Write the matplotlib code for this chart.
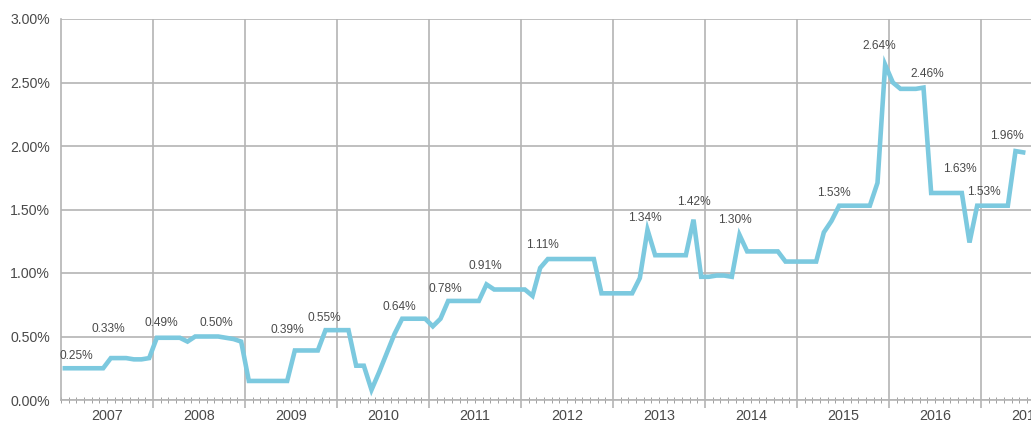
import numpy as np
import matplotlib
matplotlib.use("Agg")
import matplotlib.pyplot as plt
from matplotlib.ticker import FuncFormatter, MultipleLocator

# Monthly rate (%) from Jan 2007 to Jun 2017, one row per year
rate = [
    0.25, 0.25, 0.25, 0.25, 0.25, 0.25, 0.33, 0.33, 0.33, 0.32, 0.32, 0.33,  # 2007
    0.49, 0.49, 0.49, 0.49, 0.46, 0.50, 0.50, 0.50, 0.50, 0.49, 0.48, 0.46,  # 2008
    0.15, 0.15, 0.15, 0.15, 0.15, 0.15, 0.39, 0.39, 0.39, 0.39, 0.55, 0.55,  # 2009
    0.55, 0.55, 0.27, 0.27, 0.08, 0.22, 0.37, 0.52, 0.64, 0.64, 0.64, 0.64,  # 2010
    0.58, 0.64, 0.78, 0.78, 0.78, 0.78, 0.78, 0.91, 0.87, 0.87, 0.87, 0.87,  # 2011
    0.87, 0.82, 1.04, 1.11, 1.11, 1.11, 1.11, 1.11, 1.11, 1.11, 0.84, 0.84,  # 2012
    0.84, 0.84, 0.84, 0.96, 1.34, 1.14, 1.14, 1.14, 1.14, 1.14, 1.42, 0.97,  # 2013
    0.97, 0.98, 0.98, 0.97, 1.30, 1.17, 1.17, 1.17, 1.17, 1.17, 1.09, 1.09,  # 2014
    1.09, 1.09, 1.09, 1.32, 1.41, 1.53, 1.53, 1.53, 1.53, 1.53, 1.71, 2.64,  # 2015
    2.50, 2.45, 2.45, 2.45, 2.46, 1.63, 1.63, 1.63, 1.63, 1.63, 1.24, 1.53,  # 2016
    1.53, 1.53, 1.53, 1.53, 1.96, 1.95,                                      # 2017
]
start_year = 2007
years = [2007, 2008, 2009, 2010, 2011, 2012, 2013, 2014, 2015, 2016, 2017]

# months (index into rate) that carry a value label, and where the label sits (pixels)
label_months = [0, 6, 12, 20, 30, 34, 44, 50, 55, 63, 76, 82, 88, 101, 107, 112, 117, 120, 124]
label_offsets = [(11, 12), (-3, 29), (4, 15), (-2, 14), (-8, 20), (-1, 12), (-3, 12),
                 (-3, 12), (-1, 18), (-5, 14), (-3, 12), (0, 18), (-5, 15), (-5, 13),
                 (-6, 19), (4, 14), (-2, 24), (-1, 14), (-9, 15)]

line_color = "#7cc9df"
grid_color = "#b4b4b4"
text_color = "#4a4a4a"

plt.rcParams["font.family"] = ["Liberation Sans", "DejaVu Sans"]

W, H = 1031, 422
fig = plt.figure(figsize=(W / 100, H / 100), dpi=100)
year_px = 92.0
x_right = 2017.6
ax = fig.add_axes([61 / W, 22 / H, (x_right - start_year) * year_px / W, 381 / H])

# points sit in the middle of each month
x = start_year + (np.arange(len(rate)) + 0.5) / 12
ax.plot(x, rate, color=line_color, lw=3.3, solid_joinstyle="miter", zorder=3)

for m, (dx, dy) in zip(label_months, label_offsets):
    ax.annotate(f"{rate[m]:.2f}%", xy=(x[m], rate[m]), xytext=(dx, dy),
                textcoords="offset pixels", ha="center", va="center",
                fontsize=8.6, color=text_color, zorder=4)

ax.set_xlim(start_year, x_right)
ax.set_ylim(0, 3.0)

# y axis
ax.yaxis.set_major_locator(MultipleLocator(0.5))
ax.yaxis.set_major_formatter(FuncFormatter(lambda v, _: f"{v:.2f}%"))
ax.tick_params(axis="y", length=0, pad=8, labelsize=10.2, labelcolor=text_color)

# x axis: year boundaries as major ticks, months as minor ticks
ax.set_xticks(years[1:])
ax.set_xticklabels([])
ax.xaxis.set_minor_locator(MultipleLocator(1 / 12))
ax.tick_params(axis="x", which="major", direction="out", length=6, width=1.2, color=grid_color)
ax.tick_params(axis="x", which="minor", direction="inout", length=4, width=0.7, color="#a0a0a0")

for yr in years:
    ax.annotate(str(yr), xy=(yr + 0.5, 0), xycoords=ax.get_xaxis_transform(),
                xytext=(0, -16), textcoords="offset pixels", ha="center", va="center",
                fontsize=10.4, color=text_color, annotation_clip=False)

ax.grid(True, which="major", color=grid_color, lw=1.2)
ax.set_axisbelow(True)
for side in ["top", "right"]:
    ax.spines[side].set_visible(False)
for side in ["left", "bottom"]:
    ax.spines[side].set_color(grid_color)
    ax.spines[side].set_linewidth(1.2)

fig.savefig("out.png", dpi=100)
